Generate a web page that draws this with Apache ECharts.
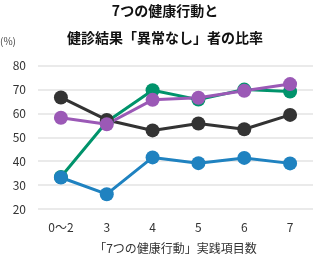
<!DOCTYPE html>
<html><head><meta charset="utf-8">
<script src="https://cdn.jsdelivr.net/npm/echarts@6/dist/echarts.min.js"></script>
<style>html,body{margin:0;padding:0;background:#fff}#c{width:314px;height:259px}</style>
</head><body><div id="c"></div>
<script>
var categories = ['0〜2','3','4','5','6','7'];
var seriesGreen = [33.4, 56.5, 69.7, 65.8, 70.0, 69.2];
var seriesBlack = [66.7, 57.3, 52.9, 55.8, 53.4, 59.4];
var seriesBlue = [33.2, 26.2, 41.6, 39.2, 41.4, 39.1];
var seriesPurple = [58.2, 55.5, 65.7, 66.6, 69.5, 72.3];
var yTicks = [20, 30, 40, 50, 60, 70, 80];
var FONT = '"Noto Sans CJK JP", sans-serif';
function mk(data, color) {
  return {type:'line', data:data, symbol:'circle', symbolSize:14,
    lineStyle:{color:color, width:3}, itemStyle:{color:color}, animation:false};
}
var chart = echarts.init(document.getElementById('c'), null, {renderer:'canvas'});
chart.setOption({
  animation:false,
  title:{text:'7つの健康行動と\n健診結果「異常なし」者の比率', left:165, textAlign:'center', top:-3, padding:0,
    textStyle:{fontFamily:FONT, fontSize:14, fontWeight:'bold', color:'#111', lineHeight:27}},
  graphic:[{type:'text', left:0, top:36, style:{text:'(%)', fontFamily:FONT, fontSize:10, fill:'#444'}}],
  grid:{left:38, right:1, top:65.7, bottom:48.3},
  xAxis:{type:'category', data:categories, boundaryGap:true,
    axisLine:{show:false}, axisTick:{show:false},
    axisLabel:{fontFamily:FONT, fontSize:12, color:'#333', margin:12},
    name:'「7つの健康行動」実践項目数', nameLocation:'middle', nameGap:33,
    nameTextStyle:{fontFamily:FONT, fontSize:12, color:'#333'}},
  yAxis:{type:'value', min:yTicks[0], max:yTicks[yTicks.length-1], interval:10,
    axisLine:{show:false}, axisTick:{show:false},
    axisLabel:{fontFamily:FONT, fontSize:12, color:'#333', margin:12},
    splitLine:{lineStyle:{color:'#e3e3e3', width:1.5}}},
  series:[mk(seriesGreen,'#00936b'), mk(seriesBlack,'#333333'), mk(seriesBlue,'#1f82c0'), mk(seriesPurple,'#9b59b6')]
});
</script></body></html>
